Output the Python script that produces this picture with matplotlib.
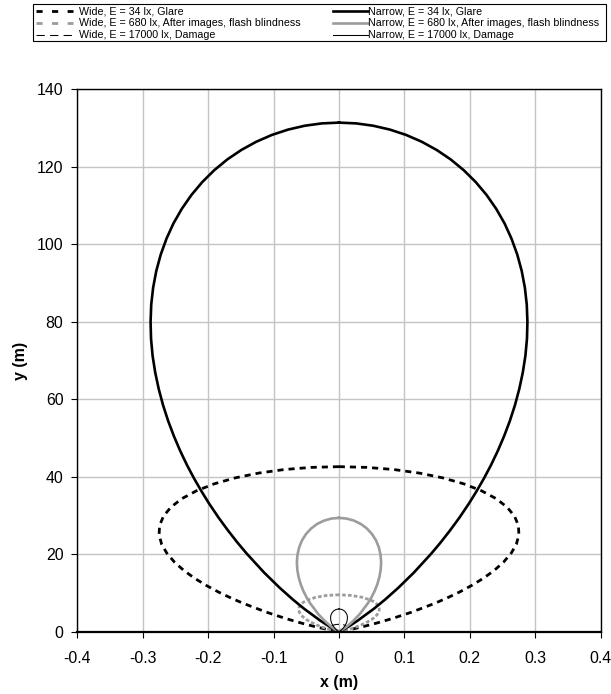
import numpy as np
import matplotlib
matplotlib.use("Agg")
import matplotlib.pyplot as plt
from matplotlib.lines import Line2D
from matplotlib.patches import Rectangle

plt.rcParams['font.family'] = ['Liberation Sans', 'DejaVu Sans']

# ---- data: right half of each (symmetric) iso-illuminance contour, x (m), y (m) ----
# Narrow beam, E = 34 lx (glare)
n34_x = [0.0, 0.0041, 0.0141, 0.0286, 0.0532, 0.0703, 0.0907, 0.1144, 0.1409, 0.1550,
         0.1694, 0.1841, 0.1987, 0.2102, 0.2215, 0.2324, 0.2427, 0.2523, 0.2611, 0.2689,
         0.2755, 0.2809, 0.2849, 0.2873, 0.2880, 0.2870, 0.2841, 0.2793, 0.2725, 0.2637,
         0.2530, 0.2402, 0.2255, 0.2089, 0.1906, 0.1707, 0.1492, 0.1265, 0.1026, 0.0778,
         0.0522, 0.0262, 0.0]
n34_y = [0.0, 0.33, 1.28, 2.86, 5.91, 8.27, 11.34, 15.25, 20.13, 22.96,
         26.07, 29.45, 33.11, 36.25, 39.55, 43.03, 46.67, 50.46, 54.39, 58.45,
         62.62, 66.88, 71.21, 75.60, 80.01, 84.41, 88.79, 93.10, 97.33, 101.44,
         105.40, 109.17, 112.74, 116.07, 119.13, 121.90, 124.35, 126.46, 128.22, 129.60,
         130.60, 131.20, 131.40]
# Narrow beam, E = 680 lx (after images, flash blindness)
n680_x = [0.0, 0.0064, 0.0119, 0.0203, 0.0315, 0.0444, 0.0495, 0.0543, 0.0584, 0.0616,
          0.0637, 0.0644, 0.0635, 0.0609, 0.0566, 0.0504, 0.0426, 0.0334, 0.0229, 0.0117, 0.0]
n680_y = [0.0, 0.64, 1.32, 2.54, 4.50, 7.40, 8.84, 10.44, 12.16, 14.00,
          15.92, 17.89, 19.85, 21.76, 23.57, 25.21, 26.64, 27.81, 28.67, 29.20, 29.38]
# Narrow beam, E = 17000 lx (damage)
n17k_x = [0.0, 0.0024, 0.0041, 0.0063, 0.0089, 0.0099, 0.0109, 0.0117, 0.0123, 0.0127,
          0.0129, 0.0127, 0.0122, 0.0113, 0.0085, 0.0046, 0.0]
n17k_y = [0.0, 0.26, 0.51, 0.90, 1.48, 1.77, 2.09, 2.43, 2.80, 3.18,
          3.58, 3.97, 4.35, 4.71, 5.33, 5.73, 5.88]
# Wide beam, E = 34 lx (glare)
w34_x = [0.0, 0.0068, 0.0191, 0.0377, 0.0564, 0.0809, 0.1111, 0.1462, 0.1650, 0.1840,
         0.2027, 0.2207, 0.2372, 0.2515, 0.2631, 0.2711, 0.2750, 0.2742, 0.2683, 0.2570,
         0.2403, 0.2181, 0.1908, 0.1588, 0.1228, 0.0837, 0.0424, 0.0]
w34_y = [0.0, 0.19, 0.62, 1.35, 2.17, 3.37, 5.05, 7.31, 8.69, 10.22,
         11.93, 13.79, 15.81, 17.96, 20.24, 22.59, 25.00, 27.42, 29.81, 32.13,
         34.33, 36.35, 38.16, 39.70, 40.94, 41.86, 42.41, 42.60]
# Wide beam, E = 680 lx (after images, flash blindness)
w680_x = [0.0, 0.0043, 0.0084, 0.0126, 0.0181, 0.0248, 0.0327, 0.0411, 0.0494, 0.0530,
          0.0562, 0.0588, 0.0606, 0.0615, 0.0613, 0.0600, 0.0575, 0.0537, 0.0488, 0.0355,
          0.0187, 0.0]
w680_y = [0.0, 0.14, 0.30, 0.49, 0.75, 1.13, 1.63, 2.29, 3.08, 3.54,
          4.02, 4.53, 5.05, 5.59, 6.13, 6.67, 7.18, 7.68, 8.13, 8.88,
          9.36, 9.53]
# Wide beam, E = 17000 lx (damage)
w17k_x = [0.0, 0.0017, 0.0036, 0.0065, 0.0082, 0.0099, 0.0112, 0.0121, 0.0123, 0.0123,
          0.0115, 0.0098, 0.0071, 0.0037, 0.0]
w17k_y = [0.0, 0.06, 0.15, 0.33, 0.46, 0.62, 0.80, 1.01, 1.12, 1.23,
          1.44, 1.63, 1.78, 1.87, 1.91]

labels = ["Wide, E = 34 lx, Glare",
          "Wide, E = 680 lx, After images, flash blindness",
          "Wide, E = 17000 lx, Damage",
          "Narrow, E = 34 lx, Glare",
          "Narrow, E = 680 lx, After images, flash blindness",
          "Narrow, E = 17000 lx, Damage"]

x_ticks = [-0.4, -0.3, -0.2, -0.1, 0.0, 0.1, 0.2, 0.3, 0.4]
x_tick_labels = ["-0.4", "-0.3", "-0.2", "-0.1", "0", "0.1", "0.2", "0.3", "0.4"]
y_ticks = [0, 20, 40, 60, 80, 100, 120, 140]


def loop(hx, hy):
    hx = np.asarray(hx); hy = np.asarray(hy)
    # symmetric contour: left half (mirrored) then right half
    return np.concatenate([-hx[::-1], hx[1:]]), np.concatenate([hy[::-1], hy[1:]])


GRAY = '#9c9c9c'
styles = [
    dict(color='black', lw=2.0, dashes=(2.2, 1.8)),
    dict(color=GRAY, lw=2.0, dashes=(1.3, 0.8)),
    dict(color='black', lw=0.75, dashes=(8, 4)),
    dict(color='black', lw=1.9, ls='-'),
    dict(color=GRAY, lw=1.9, ls='-'),
    dict(color='black', lw=0.75, ls='-'),
]
series = [(w34_x, w34_y), (w680_x, w680_y), (w17k_x, w17k_y),
          (n34_x, n34_y), (n680_x, n680_y), (n17k_x, n17k_y)]

W, H = 611, 694
fig = plt.figure(figsize=(W / 100, H / 100), dpi=100)
L, R, T, B = 77.3, 600.7, 89.3, 631.7
ax = fig.add_axes([L / W, 1 - B / H, (R - L) / W, (B - T) / H])

for (hx, hy), st, lab in zip(series, styles, labels):
    xx, yy = loop(hx, hy)
    ax.plot(xx, yy, label=lab, solid_joinstyle='round', dash_capstyle='butt', **st)

ax.set_xlim(-0.4, 0.4)
ax.set_ylim(0, 140)
ax.set_xticks(x_ticks)
ax.set_xticklabels(x_tick_labels)
ax.set_yticks(y_ticks)
ax.grid(True, color='#c4c4c4', lw=1.0)
ax.set_axisbelow(True)
for s in ['left', 'right', 'top']:
    ax.spines[s].set_linewidth(1.0)
ax.spines['bottom'].set_linewidth(1.6)
ax.tick_params(axis='both', direction='out', length=4, width=0.8, labelsize=11.4)
ax.tick_params(axis='y', pad=6)
ax.tick_params(axis='x', pad=10)
ax.tick_params(top=False, right=False)

ax.set_xlabel("x (m)", fontsize=11.5, fontweight='bold')
ax.set_ylabel("y (m)", fontsize=11.5, fontweight='bold')
ax.xaxis.set_label_coords(0.5, (B - 683) / (B - T))
ax.xaxis.label.set_va('center')
ax.yaxis.set_label_coords((21 - L) / (R - L), 0.5)
ax.yaxis.label.set_va('center')

# ---- legend drawn in pixel coordinates ----
lg = fig.add_axes([0, 0, 1, 1], zorder=5)
lg.set_xlim(0, W)
lg.set_ylim(H, 0)
lg.axis('off')
top, bot = 4, 41
lg.add_patch(Rectangle((32.7, top), 606 - 32.7, bot - top, facecolor='white',
                       edgecolor='black', lw=0.8))
rows = [11, 23, 35]
leg_styles = [
    dict(color='black', lw=2.0, dashes=(2.2, 3.4)),
    dict(color=GRAY, lw=2.0, dashes=(2.2, 3.4)),
    dict(color='black', lw=0.75, dashes=(8, 5)),
]
for i in range(3):
    lg.add_line(Line2D([36, 73], [rows[i], rows[i]], dash_capstyle='butt', **leg_styles[i]))
    lg.text(79, rows[i], labels[i], fontsize=7.7, va='center', ha='left')
    st = styles[3 + i]
    lg.add_line(Line2D([333, 368], [rows[i], rows[i]], color=st['color'], lw=st['lw']))
    lg.text(368, rows[i], labels[3 + i], fontsize=7.7, va='center', ha='left')

fig.savefig("out.png", dpi=100)
